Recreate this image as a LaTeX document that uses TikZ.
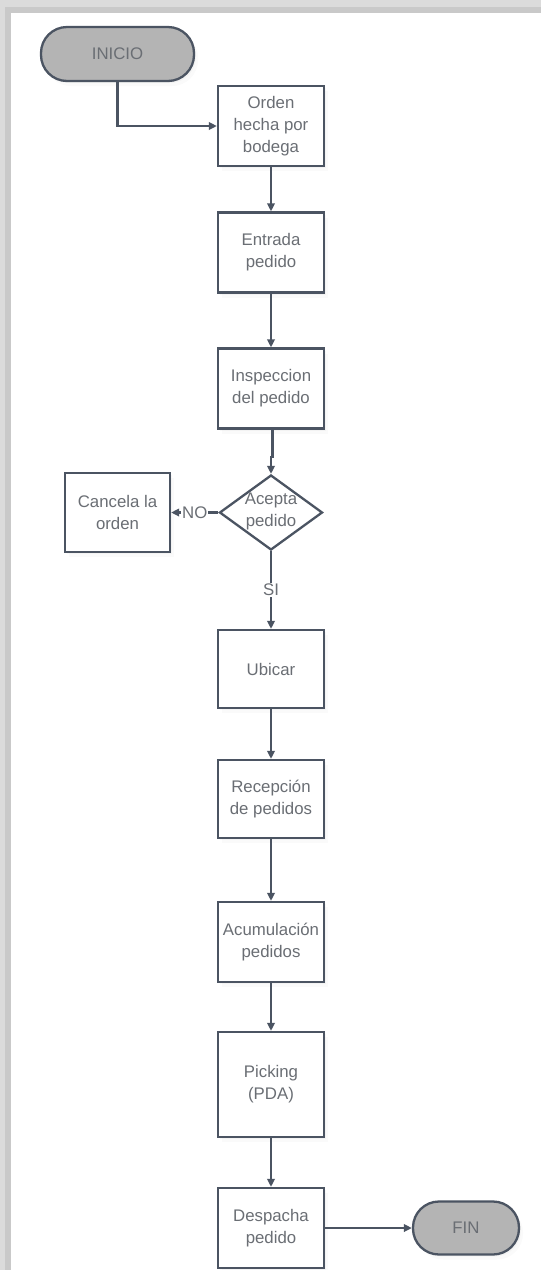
\documentclass[tikz,border=0pt]{standalone}
\usepackage{fontspec}
\setmainfont{Liberation Sans}
\usetikzlibrary{arrows.meta,shapes.geometric,shadows}
\definecolor{edgecol}{HTML}{4B5462}
\definecolor{txtcol}{HTML}{6A6E74}
\definecolor{termcol}{HTML}{B4B4B4}
\begin{document}
\begin{tikzpicture}[x=1pt,y=-1pt,
  txtfont/.style={font=\fontsize{16.8}{22}\selectfont, text=txtcol},
  softshadow/.style={
    drop shadow={opacity=0.05, shadow xshift=2pt, shadow yshift=-2pt},
    drop shadow={opacity=0.04, shadow xshift=4pt, shadow yshift=-5pt}},
  base/.style={txtfont, draw=edgecol, line width=2.3pt, align=center, inner sep=0pt, softshadow},
  proc/.style={base, fill=white, rectangle, minimum width=106pt, minimum height=80pt},
  terminal/.style={base, fill=termcol, rectangle, rounded corners=26pt, minimum height=54pt},
  decision/.style={diamond, draw=edgecol, line width=2.3pt, fill=white, inner sep=0pt,
    minimum width=103pt, minimum height=75pt},
  flow/.style={draw=edgecol, line width=2.3pt, -{Triangle[length=8pt,width=7.5pt]}},
  lbl/.style={txtfont, fill=white, inner sep=1pt}]

\useasboundingbox (0,0) rectangle (541,1270);
\fill[white] (0,0) rectangle (541,1270);

% page frame: top and left bands
\fill[gray!28] (0,0) rectangle (541,7);
\fill[gray!42] (0,7) rectangle (541,13);
\fill[gray!28] (0,0) rectangle (5,1270);
\fill[gray!42] (5,7) rectangle (11,1270);

% nodes
\node[terminal, minimum width=153pt] (inicio) at (117.5,54) {INICIO};
\node[proc] (orden) at (271,126) {Orden\\hecha por\\bodega};
\node[proc] (entrada) at (271,252.5) {Entrada\\pedido};
\node[proc] (insp) at (271,388.5) {Inspeccion\\del pedido};
\node[decision] (acepta) at (271,512.5) {};
\node[txtfont, align=center, inner sep=0pt] (aceptatxt) at (271,511) {Acepta\\pedido};
\node[proc, minimum width=105pt, minimum height=79pt] (cancela) at (117.5,512.5) {Cancela la\\orden};
\node[proc, minimum height=78pt] (ubicar) at (271,669) {Ubicar};
\node[proc, minimum height=78pt] (recep) at (271,799) {Recepción\\de pedidos};
\node[proc] (acum) at (271,942) {Acumulación\\pedidos};
\node[proc, minimum height=105pt] (picking) at (271,1084.5) {Picking\\(PDA)};
\node[proc] (despacha) at (271,1228) {Despacha\\pedido};
\node[terminal, minimum width=106pt, minimum height=53pt] (fin) at (466,1228) {FIN};

% connectors
\draw[flow] (inicio.south) |- (orden.west);
\draw[flow] (orden) -- (entrada);
\draw[flow] (entrada) -- (insp);
\draw[flow] ([xshift=1.5pt]insp.south) -- ++(0,27) -| (acepta.north);
\draw[flow] (acepta.west) -- node[lbl] {NO} (cancela.east);
\draw[flow] (acepta.south) -- node[lbl] {SI} (ubicar.north);
\draw[flow] (ubicar) -- (recep);
\draw[flow] (recep) -- (acum);
\draw[flow] (acum) -- (picking);
\draw[flow] (picking) -- (despacha);
\draw[flow] (despacha) -- (fin);
\end{tikzpicture}
\end{document}
